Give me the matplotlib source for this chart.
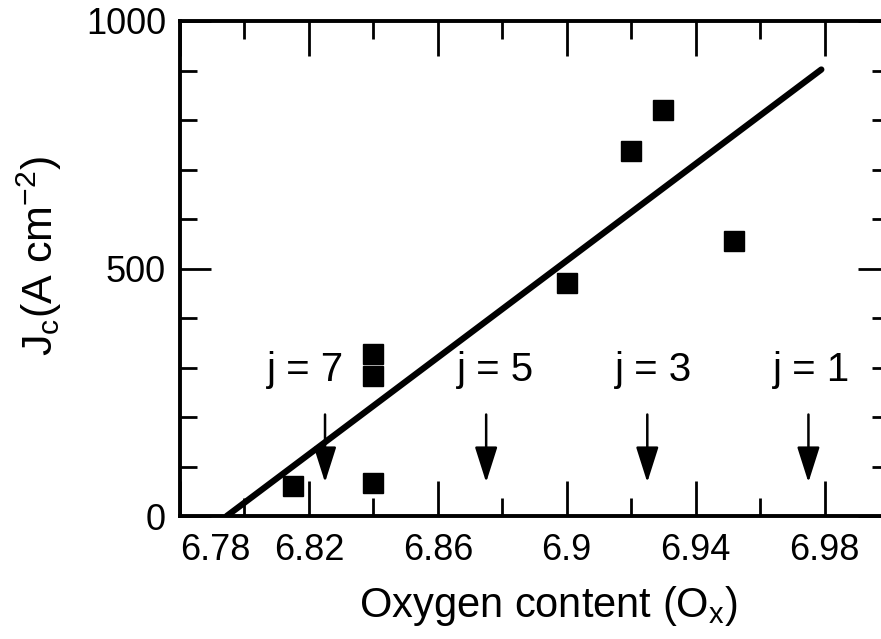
import matplotlib
matplotlib.use("Agg")
import matplotlib.pyplot as plt

plt.rcParams['font.family'] = ['Liberation Sans', 'DejaVu Sans']
plt.rcParams['mathtext.default'] = 'regular'

# measured points: oxygen content vs critical current density
oxygen = [6.815, 6.84, 6.84, 6.84, 6.90, 6.92, 6.93, 6.952]
jc = [61, 66, 283, 328, 470, 737, 820, 555]

# fitted straight line (two end points)
fit_x = [6.7945, 6.979]
fit_y = [0, 902]

# j markers: label and oxygen position of each arrow
j_labels = ['j = 7', 'j = 5', 'j = 3', 'j = 1']
j_pos = [6.825, 6.875, 6.925, 6.975]

x_ticks = [6.78, 6.82, 6.86, 6.90, 6.94, 6.98]
x_ticklabels = ['6.78', '6.82', '6.86', '6.9', '6.94', '6.98']
x_minor = [6.80, 6.84, 6.88, 6.92, 6.96]
y_ticks = [0, 500, 1000]
y_minor = [100, 200, 300, 400, 600, 700, 800, 900]

# layout of the j annotations
label_shift = [-0.006, 0.003, 0.002, 0.001]
label_y = 295
arrow_top = 205
arrow_tip = 68

fig = plt.figure(figsize=(8.81, 6.39), dpi=100)
ax = fig.add_axes([180 / 881, 123 / 639, 709 / 881, 495 / 639])

ax.plot(fit_x, fit_y, color='black', lw=4.5, solid_capstyle='round')
ax.plot(oxygen, jc, 's', color='black', markersize=14)

for lab, xp, dx in zip(j_labels, j_pos, label_shift):
    ax.annotate('', xy=(xp, arrow_tip), xytext=(xp, arrow_top),
                arrowprops=dict(arrowstyle='-|>,head_length=1.1,head_width=0.35',
                                mutation_scale=20, lw=1.8, color='black',
                                shrinkA=0, shrinkB=0))
    ax.text(xp + dx, label_y, lab, ha='center', va='center', fontsize=29)

ax.set_xlim(6.78, 7.0)
ax.set_ylim(0, 1000)
ax.set_xticks(x_ticks)
ax.set_xticklabels(x_ticklabels)
ax.set_xticks(x_minor, minor=True)
ax.set_yticks(y_ticks)
ax.set_yticks(y_minor, minor=True)

ax.tick_params(axis='both', which='both', direction='in', width=2,
               top=True, right=True, labelsize=26)
ax.tick_params(axis='x', which='major', length=25, pad=12)
ax.tick_params(axis='x', which='minor', length=13)
ax.tick_params(axis='y', which='major', length=22, pad=10)
ax.tick_params(axis='y', which='minor', length=12)
for s in ax.spines.values():
    s.set_linewidth(2.8)
ax.get_xticklabels()[0].set_horizontalalignment('left')

ax.set_xlabel('Oxygen content (O$_x$)', fontsize=30)
ax.xaxis.set_label_coords((548 - 180) / 709, (516 - 584) / 495)
ax.set_ylabel('J$_c$(A cm$^{-2}$)', fontsize=31)
ax.yaxis.set_label_coords((64 - 180) / 709, (516 - 256) / 495)

fig.savefig('out.png', dpi=100)
